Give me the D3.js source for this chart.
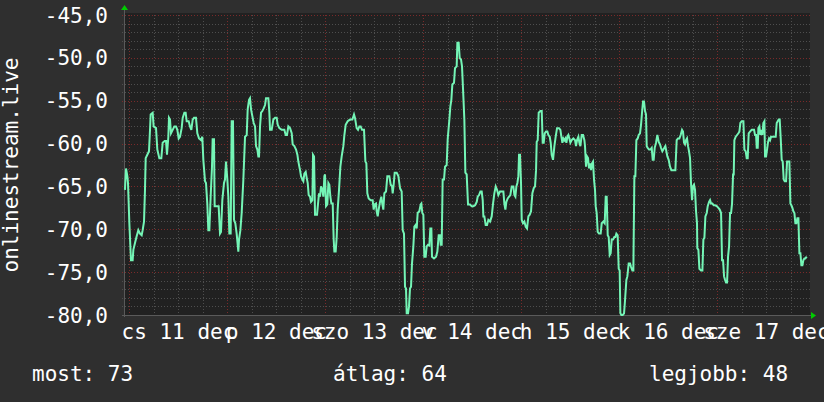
<!DOCTYPE html>
<html>
<head>
<meta charset="utf-8">
<script src="https://cdnjs.cloudflare.com/ajax/libs/d3/7.8.5/d3.min.js"></script>
<style>
  html, body { margin: 0; padding: 0; background: #2f2f2f; }
  svg { display: block; }
  text { font-family: "DejaVu Sans Mono", monospace; fill: #ffffff; }
</style>
</head>
<body>
<svg id="chart" width="824" height="402"></svg>
<script>
// signal readings, hours since the start of the window (10 dec 22:40)
var startTime = new Date(2025, 11, 10, 22, 40);
var spanHours = 168;

var hours = [
  0.24, 0.49, 0.82, 0.98, 1.31, 1.71, 2.12, 2.29, 2.69, 3.10, 3.51, 3.92, 4.33, 4.57, 4.90, 5.14, 5.31, 5.71, 6.12, 6.37,
  6.53, 7.02, 7.26, 7.84, 8.16, 8.65, 9.14, 9.47, 9.96, 10.29, 10.53, 10.86, 11.02, 11.26, 11.51, 11.92, 12.33, 12.73, 13.06, 13.39,
  13.71, 14.12, 14.37, 14.78, 15.10, 15.35, 15.84, 16.16, 16.49, 16.82, 17.14, 17.63, 17.96, 18.37, 18.86, 19.18, 19.43, 19.84, 20.08, 20.41,
  20.65, 20.90, 21.22, 21.55, 21.71, 22.04, 22.20, 22.69, 23.18, 23.51, 23.75, 24.08, 24.49, 24.73, 24.98, 25.31, 25.55, 25.80, 26.12, 26.37,
  26.69, 26.94, 27.26, 27.59, 28.00,
  28.17, 28.50, 28.82, 29.23, 29.64, 30.05, 30.29, 30.62, 30.86, 31.11, 31.43, 31.76, 32.09, 32.33, 32.66, 32.90, 33.07, 33.31, 33.56, 33.88,
  34.21, 34.54, 34.78, 35.35, 35.60, 35.76, 36.17, 36.58, 36.99, 37.39, 37.64, 38.05, 38.62, 39.27, 39.60, 39.92, 40.25, 40.66, 41.07, 41.31,
  41.72, 42.13, 42.46, 42.70, 43.11, 43.35, 43.68, 43.92, 44.17, 44.50, 44.74, 44.99, 45.23, 45.56, 45.80, 46.13, 46.29, 46.54, 46.78, 47.27,
  47.52, 47.76, 48.01, 48.25, 48.58, 48.82, 49.07, 49.23, 49.48, 49.80, 50.05, 50.29, 50.54, 50.78, 51.11, 51.35, 51.52, 51.84, 52.09, 52.33,
  52.66, 52.99, 53.31, 53.72, 53.97, 54.29, 54.78, 55.35, 55.93,
  56.33, 56.57, 56.98, 57.31, 57.64, 57.96, 58.29, 58.78, 59.11, 59.35, 59.59, 59.92, 60.41, 60.90, 61.15, 61.39, 61.72, 61.88, 62.13, 62.37,
  62.70, 63.02, 63.27, 63.51, 63.76, 64.17, 64.49, 64.98, 65.31, 65.64, 65.80, 66.04, 66.29, 66.78, 67.19, 67.60, 68.00, 68.25, 68.57, 68.82,
  69.06, 69.23, 69.56, 69.80, 70.04, 70.29, 70.53, 70.86, 71.11, 71.43, 71.68, 71.92, 72.33, 72.66, 72.82, 73.06, 73.31, 73.55, 73.88, 74.13,
  74.45, 74.78, 75.02, 75.27, 75.43, 75.92, 76.41, 76.74, 77.07, 77.39, 77.56, 77.80, 78.04, 78.37, 78.62, 79.02, 79.27, 79.68, 79.92, 80.17,
  80.41, 80.82, 81.06, 81.47, 81.64, 81.96, 82.21, 82.54, 82.78, 83.11, 83.35, 83.60, 83.92, 84.25, 84.74,
  85.15, 85.56, 85.97, 86.38, 86.62, 86.95, 87.28, 87.60, 87.85, 88.01, 88.25, 88.58, 88.91, 89.23, 89.64, 90.05, 90.38, 90.70, 91.03, 91.36,
  91.68, 92.09, 92.50, 92.91, 93.15, 93.40, 93.64, 93.97, 94.30, 94.62, 94.95, 95.36, 95.60, 95.85, 96.09, 96.34, 96.58, 96.74, 96.99, 97.23,
  97.40, 97.72, 98.05, 98.38, 98.70, 99.03, 99.36, 99.68, 100.01, 100.34, 100.66, 100.91, 101.07, 101.32, 101.56, 101.97, 102.30, 102.54, 102.79, 103.03,
  103.36, 103.68, 103.93, 104.26, 104.50, 104.74, 105.07, 105.40, 105.72, 106.05, 106.54, 106.87, 107.11, 107.36, 107.60, 107.85, 108.09, 108.34, 108.58, 108.83,
  109.07, 109.32, 109.64, 110.05, 110.46, 110.70, 110.95, 111.28, 111.52, 111.77, 112.09, 112.42, 112.75,
  112.90, 113.15, 113.39, 113.64, 113.88, 114.13, 114.37, 114.62, 114.86, 115.11, 115.35, 115.52, 115.76, 116.01, 116.33, 116.74, 116.99, 117.39, 117.72, 117.97,
  118.21, 118.46, 118.70, 118.95, 119.19, 119.44, 119.76, 120.09, 120.33, 120.58, 120.90, 121.15, 121.39, 121.56, 121.80, 122.13, 122.46, 122.70, 123.03, 123.27,
  123.60, 123.93, 124.17, 124.50, 124.74, 124.99, 125.23, 125.48, 125.80, 126.05, 126.37, 126.62, 126.86, 127.11, 127.35, 127.60, 127.84, 128.01, 128.25, 128.58,
  128.90, 129.23, 129.48, 129.72, 129.97, 130.29, 130.62, 130.95, 131.27, 131.52, 131.84, 132.09, 132.33, 132.58, 132.82, 133.07, 133.39, 133.72, 134.05, 134.37,
  134.70, 135.03, 135.35, 135.68, 136.01, 136.33, 136.66, 136.90, 137.15, 137.39, 137.64, 137.88, 138.13, 138.37, 138.62, 138.86, 139.11, 139.35, 139.60, 139.84,
  140.09, 140.33,
  140.40, 140.67, 140.91, 141.32, 141.65, 141.89, 142.14, 142.38, 142.71, 142.95, 143.28, 143.52, 143.77, 144.10, 144.42, 144.75, 145.16, 145.56, 145.89, 146.22,
  146.46, 146.71, 146.95, 147.20, 147.44, 147.69, 147.93, 148.18, 148.42, 148.67, 148.91, 149.16, 149.32, 149.48, 149.81, 150.14, 150.46, 150.71, 150.95, 151.28,
  151.69, 151.93, 152.26, 152.50, 152.75, 152.99, 153.32, 153.73, 154.05, 154.30, 154.54, 154.79, 154.95, 155.20, 155.36, 155.61, 155.85, 156.10, 156.34, 156.58,
  156.83, 156.99, 157.24, 157.48, 157.73, 157.97, 158.22, 158.46, 158.79, 159.03, 159.28, 159.60, 159.85, 160.09, 160.34, 160.58, 160.83, 161.07, 161.32, 161.56,
  161.81, 162.14, 162.38, 162.71, 162.95, 163.20, 163.44, 163.69, 163.93, 164.18, 164.42, 164.67, 164.91, 165.16, 165.40, 165.65, 165.89, 166.14, 166.38, 166.63,
  166.87, 167.20
];

var values = [
  -65.4, -62.9, -63.8, -64.6, -69.3, -73.6, -73.6, -72.4, -71.6, -70.8, -70.1, -70.5, -70.7, -70.1, -69.1, -65.4, -61.7, -61.3, -60.9, -58.4,
  -56.6, -56.4, -58.0, -58.2, -60.7, -61.7, -61.7, -59.9, -59.7, -59.7, -61.3, -59.2, -57.0, -57.2, -58.8, -58.4, -58.0, -58.0, -58.4, -59.4,
  -59.2, -58.2, -57.0, -56.4, -56.4, -57.4, -57.4, -58.0, -58.4, -57.2, -57.0, -57.0, -58.8, -59.4, -59.6, -59.2, -61.9, -64.4, -64.6, -67.1,
  -70.1, -70.1, -66.2, -62.7, -59.5, -59.5, -67.3, -67.3, -67.3, -70.5, -70.3, -66.6, -64.6, -64.2, -62.1, -64.2, -66.2, -70.5, -70.5, -57.4,
  -57.4, -68.9, -69.3, -70.5, -72.6,
  -71.2, -70.1, -68.1, -64.2, -59.2, -59.0, -56.0, -54.9, -54.7, -56.0, -56.8, -57.6, -58.0, -60.3, -60.7, -61.5, -61.5, -58.0, -56.4, -56.2,
  -55.9, -55.5, -54.7, -54.7, -56.4, -58.4, -58.4, -57.2, -57.0, -57.0, -57.8, -58.2, -58.4, -58.4, -59.0, -59.0, -58.0, -58.2, -58.8, -60.1,
  -60.3, -60.7, -61.3, -62.1, -63.1, -63.8, -64.2, -64.4, -63.5, -63.3, -64.0, -64.6, -66.0, -66.2, -66.8, -66.6, -61.3, -61.5, -68.3, -68.3,
  -67.0, -65.8, -66.2, -65.0, -65.4, -66.2, -63.8, -63.6, -67.3, -67.1, -64.6, -64.8, -66.2, -67.0, -67.0, -71.2, -72.6, -72.6, -70.9, -67.7,
  -65.4, -62.7, -61.5, -60.3, -59.0, -57.8, -57.4, -57.2, -57.2,
  -56.6, -57.0, -58.2, -58.4, -58.0, -58.0, -58.4, -58.4, -62.1, -62.3, -65.8, -66.4, -66.6, -66.6, -67.7, -67.1, -67.0, -67.9, -68.5, -67.7,
  -66.8, -66.2, -67.1, -67.7, -65.8, -65.6, -63.8, -63.8, -64.8, -65.0, -65.8, -64.8, -63.4, -63.4, -63.8, -65.2, -65.6, -70.1, -70.5, -76.7,
  -76.9, -79.8, -79.8, -79.0, -76.9, -76.7, -74.0, -72.0, -69.7, -69.5, -69.9, -68.1, -67.9, -67.1, -67.0, -68.1, -68.3, -73.2, -73.2, -72.0,
  -71.8, -71.9, -69.9, -69.9, -73.2, -73.4, -73.2, -72.6, -70.7, -70.7, -71.8, -71.8, -64.2, -64.2, -62.7, -62.5, -59.5, -57.2, -55.7, -54.9,
  -53.1, -52.9, -51.2, -51.0, -48.25, -48.25, -50.0, -50.2, -51.0, -54.5, -57.2, -63.4, -63.6, -67.1, -67.1,
  -67.3, -67.3, -67.2, -66.8, -66.2, -66.0, -65.6, -65.6, -66.6, -68.5, -68.5, -69.5, -69.5, -68.9, -69.1, -68.5, -67.0, -65.8, -65.0, -65.4,
  -66.0, -65.6, -65.6, -65.6, -67.0, -67.7, -66.8, -66.4, -66.2, -66.0, -65.0, -65.0, -66.0, -66.2, -65.0, -64.6, -63.8, -61.3, -61.3, -64.6,
  -68.9, -69.3, -69.1, -69.7, -69.9, -68.5, -68.3, -67.9, -65.8, -65.2, -65.0, -63.1, -59.8, -59.6, -56.4, -56.2, -56.2, -59.9, -59.9, -58.8,
  -58.6, -58.6, -59.0, -59.2, -59.9, -61.3, -61.9, -60.3, -59.2, -58.2, -58.2, -58.4, -59.2, -59.9, -59.4, -59.6, -59.4, -59.9, -59.2, -59.0,
  -59.4, -59.9, -59.6, -59.4, -59.6, -60.3, -59.6, -59.2, -59.9, -60.3, -59.0, -59.0, -59.6,
  -60.3, -62.7, -61.5, -61.7, -62.9, -62.3, -63.1, -62.3, -62.1, -64.2, -65.4, -67.3, -68.1, -70.3, -70.5, -70.5, -69.3, -69.1, -69.3, -66.2,
  -66.2, -70.7, -70.9, -73.0, -72.8, -71.2, -71.2, -70.9, -70.9, -70.5, -70.7, -74.6, -74.8, -79.8, -80.0, -80.0, -79.8, -78.3, -75.9, -75.5,
  -74.0, -74.0, -74.4, -74.8, -74.8, -63.8, -63.8, -59.6, -59.4, -59.0, -58.8, -57.8, -56.4, -55.1, -55.1, -56.2, -56.6, -60.3, -60.5, -60.7,
  -60.7, -60.5, -61.9, -61.9, -60.5, -59.9, -59.0, -59.8, -60.1, -60.5, -60.9, -60.7, -60.5, -60.3, -60.9, -61.5, -61.9, -62.7, -63.1, -63.1,
  -63.1, -63.1, -59.6, -59.4, -59.4, -59.0, -58.4, -58.6, -59.9, -60.1, -59.6, -59.4, -60.3, -60.9, -61.7, -64.6, -66.6, -65.0, -64.8, -65.4,
  -67.9, -69.3,
  -72.2, -72.4, -74.6, -74.8, -74.8, -71.2, -71.0, -68.5, -68.1, -67.3, -66.8, -66.6, -67.0, -67.0, -67.2, -67.2, -67.3, -67.5, -67.7, -68.1,
  -73.6, -73.6, -75.5, -75.9, -76.2, -76.2, -73.2, -72.0, -68.1, -68.1, -67.0, -63.6, -63.6, -59.6, -59.2, -59.0, -58.8, -58.6, -57.6, -57.4,
  -57.4, -60.7, -60.9, -61.7, -61.7, -58.8, -58.6, -58.4, -58.4, -58.4, -59.0, -59.0, -60.5, -60.5, -58.2, -58.0, -59.0, -58.4, -59.0, -57.6,
  -57.4, -61.5, -61.5, -60.7, -59.8, -59.4, -59.6, -59.2, -59.2, -59.2, -59.2, -59.2, -57.6, -57.4, -57.2, -57.2, -59.4, -61.9, -62.1, -64.2,
  -64.4, -64.4, -62.1, -62.1, -62.1, -67.0, -67.2, -67.5, -67.9, -68.1, -69.3, -69.3, -68.7, -68.7, -72.8, -72.8, -74.2, -74.2, -73.6, -73.4,
  -73.4, -73.2
];

var yDomain = [-80, -45];
var yTickStep = 5;
var yTitle = "onlinestream.live";
var dayNames = ["v", "h", "k", "sze", "cs", "p", "szo"];
var monthNames = ["jan", "feb", "márc", "ápr", "máj", "jún", "júl", "aug", "szept", "okt", "nov", "dec"];
var legendLabels = ["most", "átlag", "legjobb"];
var legendValues = [73, 64, 48];

var huLocale = d3.timeFormatLocale({
  dateTime: "%Y. %B %-e., %A %X", date: "%Y. %m. %d.", time: "%H:%M:%S",
  periods: ["de.", "du."],
  days: ["vasárnap", "hétfő", "kedd", "szerda", "csütörtök", "péntek", "szombat"],
  shortDays: dayNames,
  months: ["január", "február", "március", "április", "május", "június", "július", "augusztus", "szeptember", "október", "november", "december"],
  shortMonths: monthNames
});
var dayFormat = huLocale.format("%a %d %b");

var svg = d3.select("#chart");
var W = 824, H = 402;
var plot = {left: 124, right: 810, top: 15, bottom: 315};

var endTime = d3.timeHour.offset(startTime, spanHours);
var data = hours.map(function (h, i) {
  return {t: new Date(startTime.getTime() + h * 3600000), v: values[i]};
});

var xScale = d3.scaleTime().domain([startTime, endTime]).range([plot.left, plot.right]);
var yScale = d3.scaleLinear().domain(yDomain).range([plot.bottom, plot.top]);

svg.append("rect").attr("width", W).attr("height", H).attr("fill", "#2f2f2f");
svg.append("rect")
  .attr("x", plot.left).attr("y", plot.top - 2)
  .attr("width", plot.right - plot.left).attr("height", plot.bottom - plot.top + 2)
  .attr("fill", "#212121");

// grid
var grid = svg.append("g").attr("shape-rendering", "crispEdges");
var minorY = d3.range(yDomain[0], yDomain[1] + 1, 1).filter(function (d) { return d % yTickStep != 0; });
var majorY = d3.range(yDomain[0], yDomain[1] + 1, yTickStep);
var minorX = d3.timeHour.every(6).range(startTime, endTime).filter(function (d) { return d.getHours() != 0; });
var majorX = d3.timeDay.range(startTime, endTime);

grid.selectAll(".ymin").data(minorY).enter().append("line")
  .attr("x1", plot.left - 2).attr("x2", plot.right)
  .attr("y1", function (d) { return Math.round(yScale(d)) + 0.5; })
  .attr("y2", function (d) { return Math.round(yScale(d)) + 0.5; })
  .attr("stroke", "#4e4e4e").attr("stroke-dasharray", "1,2");
grid.selectAll(".xmin").data(minorX).enter().append("line")
  .attr("x1", function (d) { return Math.round(xScale(d)) + 0.5; })
  .attr("x2", function (d) { return Math.round(xScale(d)) + 0.5; })
  .attr("y1", plot.top).attr("y2", plot.bottom + 2)
  .attr("stroke", "#4e4e4e").attr("stroke-dasharray", "1,2");
grid.selectAll(".ymaj").data(majorY).enter().append("line")
  .attr("x1", plot.left - 2).attr("x2", plot.right)
  .attr("y1", function (d) { return Math.round(yScale(d)) + 0.5; })
  .attr("y2", function (d) { return Math.round(yScale(d)) + 0.5; })
  .attr("stroke", "#7a2a2a").attr("stroke-dasharray", "1,2");
grid.selectAll(".xmaj").data(majorX).enter().append("line")
  .attr("x1", function (d) { return Math.round(xScale(d)) + 0.5; })
  .attr("x2", function (d) { return Math.round(xScale(d)) + 0.5; })
  .attr("y1", plot.top).attr("y2", plot.bottom + 2)
  .attr("stroke", "#7a2a2a").attr("stroke-dasharray", "1,2");

// axes lines and arrows
grid.append("line").attr("x1", plot.left - 2).attr("x2", plot.right + 2)
  .attr("y1", plot.bottom + 0.5).attr("y2", plot.bottom + 0.5).attr("stroke", "#5a5a5a");
grid.append("line").attr("x1", plot.left + 0.5).attr("x2", plot.left + 0.5)
  .attr("y1", plot.top - 6).attr("y2", plot.bottom + 2).attr("stroke", "#5a5a5a");
svg.append("path")
  .attr("d", "M" + (plot.left - 3) + "," + (plot.top - 5) + "L" + (plot.left + 4) + "," + (plot.top - 5) + "L" + (plot.left + 0.5) + "," + (plot.top - 10) + "Z")
  .attr("fill", "#00cc00");
svg.append("path")
  .attr("d", "M" + (plot.right + 1) + "," + (plot.bottom - 3) + "L" + (plot.right + 1) + "," + (plot.bottom + 4) + "L" + (plot.right + 6) + "," + (plot.bottom + 0.5) + "Z")
  .attr("fill", "#00cc00");

// y labels
svg.selectAll(".ylab").data(majorY).enter().append("text")
  .attr("x", 108).attr("y", function (d) { return yScale(d); })
  .attr("dy", "0.36em").attr("text-anchor", "end")
  .style("font-size", "21px")
  .text(function (d) { return d3.format(".1f")(d).replace("−", "-").replace(".", ","); });

// x labels, centred on the middle of each day
var labelDays = d3.timeDay.range(d3.timeDay.ceil(startTime), endTime);
svg.selectAll(".xlab").data(labelDays).enter().append("text")
  .attr("x", function (d) { return xScale(d3.timeHour.offset(d, 12)); })
  .attr("y", 339).attr("text-anchor", "middle")
  .style("font-size", "21px")
  .text(function (d) { return dayFormat(d).replace(" 0", " "); });

// y title
svg.append("text")
  .attr("transform", "translate(18," + ((plot.top + plot.bottom) / 2) + ") rotate(-90)")
  .attr("text-anchor", "middle")
  .style("font-size", "21px")
  .text(yTitle);

// the line
var line = d3.line()
  .x(function (d) { return xScale(d.t); })
  .y(function (d) { return yScale(d.v); });
svg.append("path").datum(data)
  .attr("d", line)
  .attr("fill", "none")
  .attr("stroke", "#74f5b6")
  .attr("stroke-width", 2)
  .attr("stroke-linejoin", "miter");

// legend
var legendX = [32, 333, 649];
svg.selectAll(".leg").data(legendLabels).enter().append("text")
  .attr("x", function (d, i) { return legendX[i]; })
  .attr("y", 381)
  .style("font-size", "21px")
  .text(function (d, i) { return d + ": " + legendValues[i]; });
</script>
</body>
</html>
